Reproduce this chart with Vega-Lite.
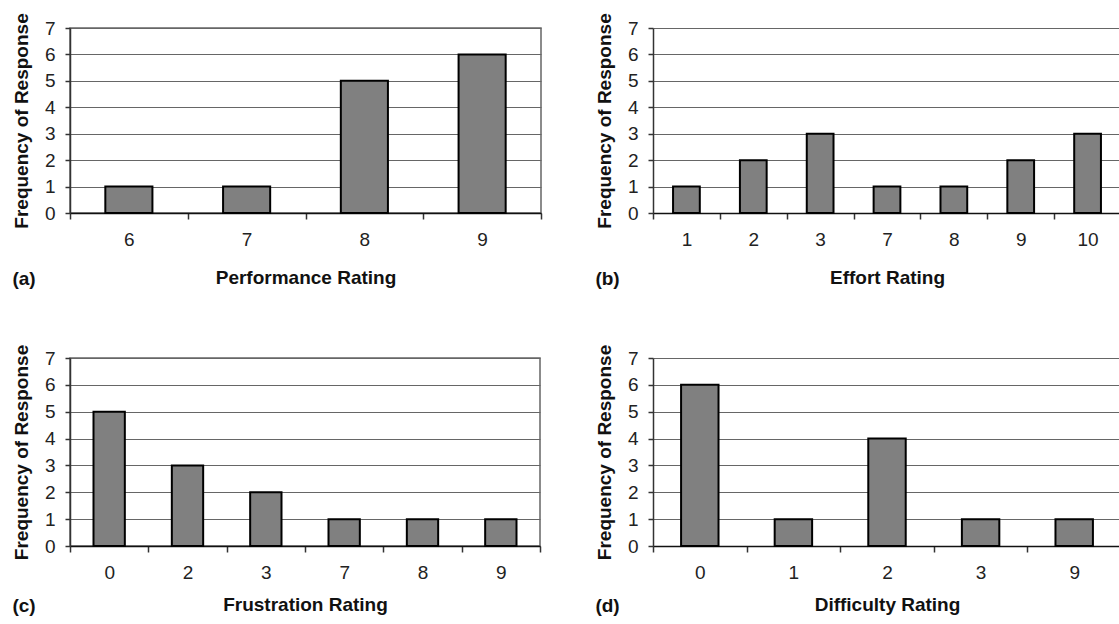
{
  "$schema": "https://vega.github.io/schema/vega-lite/v6.json",
  "padding": {"left": 11, "top": 12, "right": 0, "bottom": 30},
  "autosize": {"type": "pad"},
  "background": "white",
  "datasets": {
    "perf": [{"rating": 6, "freq": 1}, {"rating": 7, "freq": 1}, {"rating": 8, "freq": 5}, {"rating": 9, "freq": 6}],
    "effort": [{"rating": 1, "freq": 1}, {"rating": 2, "freq": 2}, {"rating": 3, "freq": 3}, {"rating": 7, "freq": 1}, {"rating": 8, "freq": 1}, {"rating": 9, "freq": 2}, {"rating": 10, "freq": 3}],
    "frust": [{"rating": 0, "freq": 5}, {"rating": 2, "freq": 3}, {"rating": 3, "freq": 2}, {"rating": 7, "freq": 1}, {"rating": 8, "freq": 1}, {"rating": 9, "freq": 1}],
    "diff": [{"rating": 0, "freq": 6}, {"rating": 1, "freq": 1}, {"rating": 2, "freq": 4}, {"rating": 3, "freq": 1}, {"rating": 9, "freq": 1}]
  },
  "config": {
    "font": "Liberation Sans",
    "view": {"stroke": "#666", "strokeWidth": 1.5},
    "axis": {
      "labelFont": "Liberation Sans", "labelFontSize": 19, "labelColor": "#222",
      "titleFont": "Liberation Sans", "titleFontSize": 19, "titleFontWeight": "bold", "titleColor": "#111",
      "domainColor": "#333", "tickColor": "#333", "gridColor": "#666", "gridOpacity": 1, "gridWidth": 1.2
    },
    "axisX": {"tickBand": "extent", "labelAngle": 0, "grid": false, "tickSize": 6, "labelPadding": 11, "titlePadding": 19, "domainWidth": 1.5, "tickWidth": 1.5, "domainColor": "#111"},
    "axisY": {"grid": true, "tickSize": 5, "labelPadding": 10, "titlePadding": 13, "domainWidth": 1.5, "tickWidth": 1.5},
    "title": {"orient": "bottom", "anchor": "start", "frame": "bounds", "fontSize": 19, "fontWeight": "bold", "font": "Liberation Sans", "color": "#111", "offset": -17},
    "bar": {"fill": "#808080", "stroke": "#000", "strokeWidth": 2}
  },
  "spacing": 53,
  "vconcat": [
    {
      "spacing": 52,
      "hconcat": [
        {
          "title": "(a)",
          "width": 471, "height": 185,
          "data": {"name": "perf"},
          "mark": {"type": "bar", "width": {"band": 0.4}},
          "encoding": {
            "x": {"field": "rating", "type": "ordinal", "title": "Performance Rating", "scale": {"paddingInner": 0, "paddingOuter": 0}},
            "y": {"field": "freq", "type": "quantitative", "title": "Frequency of Response", "scale": {"domain": [0, 7], "nice": false}, "axis": {"values": [0, 1, 2, 3, 4, 5, 6, 7]}}
          }
        },
        {
          "title": "(b)",
          "width": 468, "height": 185,
          "view": {"stroke": null},
          "data": {"name": "effort"},
          "mark": {"type": "bar", "width": {"band": 0.4}},
          "encoding": {
            "x": {"field": "rating", "type": "ordinal", "title": "Effort Rating", "scale": {"paddingInner": 0, "paddingOuter": 0}},
            "y": {"field": "freq", "type": "quantitative", "title": "Frequency of Response", "scale": {"domain": [0, 7], "nice": false}, "axis": {"values": [0, 1, 2, 3, 4, 5, 6, 7]}}
          }
        }
      ]
    },
    {
      "spacing": 53,
      "hconcat": [
        {
          "title": "(c)",
          "width": 470, "height": 188,
          "data": {"name": "frust"},
          "mark": {"type": "bar", "width": {"band": 0.4}},
          "encoding": {
            "x": {"field": "rating", "type": "ordinal", "title": "Frustration Rating", "scale": {"paddingInner": 0, "paddingOuter": 0}, "axis": {"titlePadding": 13}},
            "y": {"field": "freq", "type": "quantitative", "title": "Frequency of Response", "scale": {"domain": [0, 7], "nice": false}, "axis": {"values": [0, 1, 2, 3, 4, 5, 6, 7]}}
          }
        },
        {
          "title": "(d)",
          "width": 468, "height": 188,
          "view": {"stroke": null},
          "data": {"name": "diff"},
          "mark": {"type": "bar", "width": {"band": 0.4}},
          "encoding": {
            "x": {"field": "rating", "type": "ordinal", "title": "Difficulty Rating", "scale": {"paddingInner": 0, "paddingOuter": 0}, "axis": {"titlePadding": 13}},
            "y": {"field": "freq", "type": "quantitative", "title": "Frequency of Response", "scale": {"domain": [0, 7], "nice": false}, "axis": {"values": [0, 1, 2, 3, 4, 5, 6, 7]}}
          }
        }
      ]
    }
  ]
}
